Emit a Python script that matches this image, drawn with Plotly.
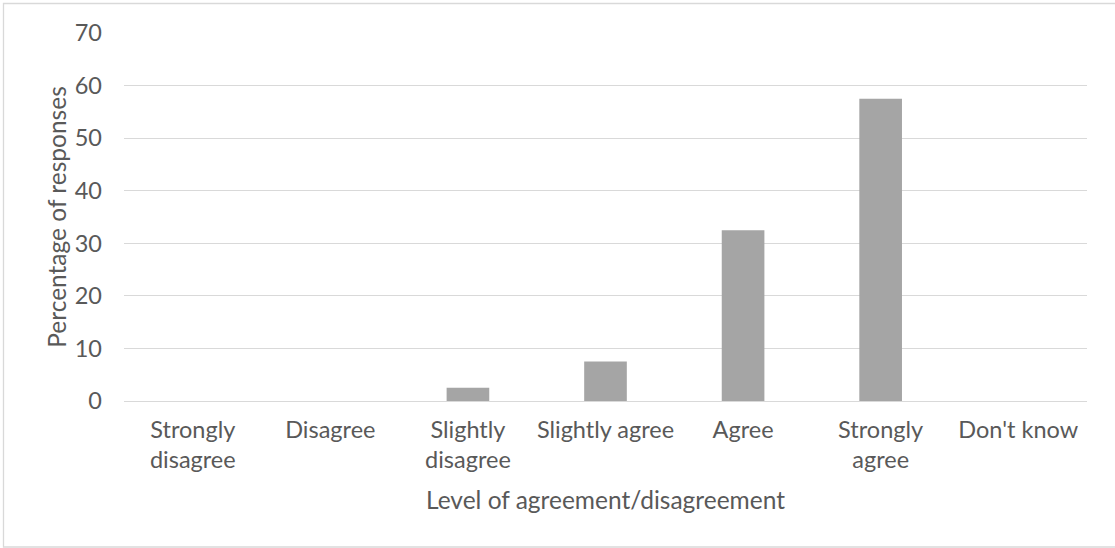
import plotly.graph_objects as go

categories = ["Strongly<br>disagree", "Disagree", "Slightly<br>disagree", "Slightly agree",
              "Agree", "Strongly<br>agree", "Don't know"]
percentages = [0, 0, 2.5, 7.5, 32.5, 57.5, 0]
y_ticks = [0, 10, 20, 30, 40, 50, 60, 70]

W, H = 1115, 548
ML, MR, MT, MB = 124, 28, 33, 147
pw, ph = W - ML - MR, H - MT - MB

FONT = "Lato, 'Open Sans', sans-serif"
TXT = "#595959"
FS = 23.5
FT = 24.5

fig = go.Figure(go.Bar(x=categories, y=percentages, marker=dict(color="#A5A5A5", line=dict(width=0)),
                       width=0.31))

fig.update_layout(
    width=W, height=H,
    margin=dict(l=ML, r=MR, t=MT, b=MB),
    paper_bgcolor="white", plot_bgcolor="white",
    font=dict(family=FONT, color=TXT, size=FS),
    showlegend=False,
    xaxis=dict(
        title=dict(text="Level of agreement/disagreement", font=dict(size=FT, color=TXT), standoff=19),
        tickfont=dict(size=FS, color=TXT),
        showline=False, showgrid=False, ticks="", ticklabelstandoff=12,
    ),
    yaxis=dict(
        title=dict(text="Percentage of responses", font=dict(size=FT, color=TXT), standoff=1),
        range=[0, 70], tickvals=y_ticks, tickfont=dict(size=FS, color=TXT),
        showgrid=True, gridcolor="#D9D9D9", gridwidth=1.4, zeroline=True, zerolinecolor="#D9D9D9",
        zerolinewidth=1.4, showline=False, ticks="", ticklabelstandoff=21,
    ),
    shapes=[dict(type="rect", xref="paper", yref="paper",
                 x0=(3.5 - ML) / pw, x1=(1125 - ML) / pw,
                 y0=(MT + ph - 547) / ph, y1=(MT + ph - 3.5) / ph,
                 line=dict(color="#D9D9D9", width=1.3), fillcolor="rgba(0,0,0,0)", layer="below")],
)

fig.write_html("out.html", config={"displayModeBar": False},
               post_script="document.body.style.margin='0';document.body.style.overflow='hidden';")
